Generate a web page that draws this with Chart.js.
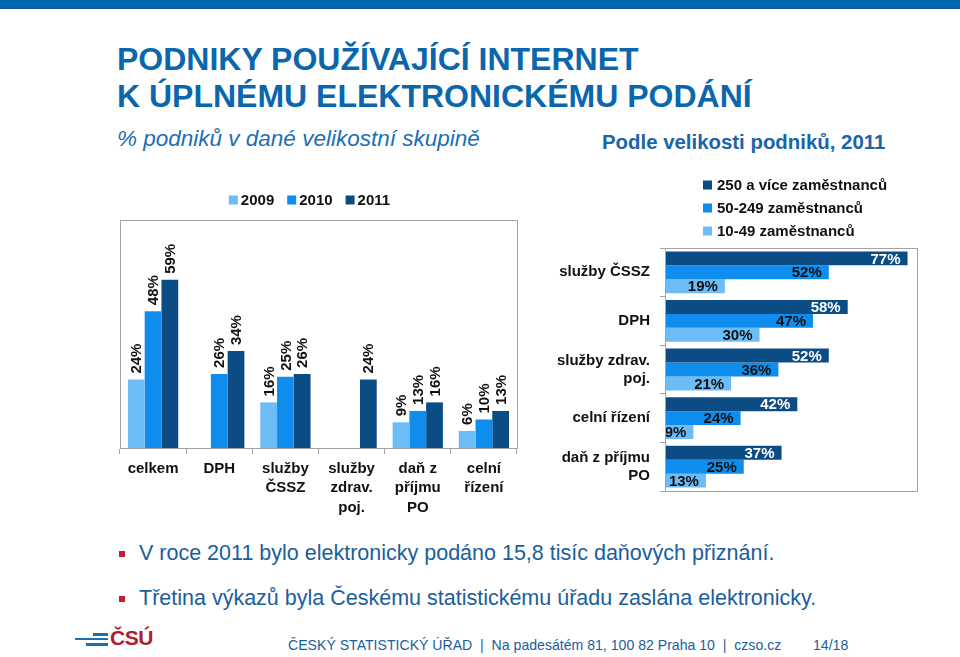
<!DOCTYPE html>
<html lang="cs">
<head>
<meta charset="utf-8">
<script src="https://cdn.jsdelivr.net/npm/chart.js@4/dist/chart.umd.min.js"></script>
<style>
  html, body { margin:0; padding:0; }
  body { width:960px; height:657px; position:relative; overflow:hidden; background:#fff;
         font-family:"Liberation Sans", Arial, sans-serif; }
  .abs { position:absolute; white-space:nowrap; }
  #topbar { left:0; top:0; width:960px; height:8px; background:#0067b1; border-bottom:1px solid #0a5a96; }
  .title { left:117px; font-size:32px; line-height:37px; font-weight:bold; color:#0a67ad; }
  #sub1 { left:117px; top:126px; font-size:22.5px; line-height:26px; font-style:italic; color:#1a6fb5; }
  #sub2 { left:602px; top:129px; font-size:20.4px; line-height:26px; font-weight:bold; color:#1a64a8; }
  .bullet { left:139px; font-size:21.5px; line-height:26px; color:#1a5e9c; }
  .sq { position:absolute; width:6px; height:6px; background:#c0202e; }
  #footer { left:288px; top:636px; font-size:14.1px; line-height:18px; color:#1a5e9c; }
  #page { left:813px; top:636px; font-size:14.1px; line-height:18px; color:#1a5e9c; }
  #logo { left:110px; top:625px; font-size:21px; line-height:26px; font-weight:bold; color:#b11c2e; letter-spacing:-0.5px; }
  .ll { position:absolute; height:3px; background:#1b6fb5; }
  canvas { position:absolute; }
</style>
</head>
<body>
<div id="topbar" class="abs"></div>
<div class="abs title" style="top:41px">PODNIKY POUŽÍVAJÍCÍ INTERNET</div>
<div class="abs title" style="top:78px">K ÚPLNÉMU ELEKTRONICKÉMU PODÁNÍ</div>
<div id="sub1" class="abs">% podniků v dané velikostní skupině</div>
<div id="sub2" class="abs">Podle velikosti podniků, 2011</div>

<canvas id="left" width="420" height="345" style="left:110px; top:180px;"></canvas>
<canvas id="right" width="375" height="340" style="left:550px; top:170px;"></canvas>

<div class="sq" style="left:119px; top:551px"></div>
<div class="abs bullet" style="top:540px">V roce 2011 bylo elektronicky podáno 15,8 tisíc daňových přiznání.</div>
<div class="sq" style="left:119px; top:596px"></div>
<div class="abs bullet" style="top:585px">Třetina výkazů byla Českému statistickému úřadu zaslána elektronicky.</div>

<div class="ll" style="left:93px; top:633px; width:15px"></div>
<div class="ll" style="left:75px; top:638px; width:33px; height:2px"></div>
<div class="ll" style="left:86px; top:643px; width:22px"></div>
<div id="logo" class="abs">ČSÚ</div>
<div id="footer" class="abs">ČESKÝ STATISTICKÝ ÚŘAD &nbsp;|&nbsp; Na padesátém 81, 100 82 Praha 10 &nbsp;|&nbsp; czso.cz</div>
<div id="page" class="abs">14/18</div>

<script>
// ---- Data ----
const leftCategories = ['celkem', 'DPH', ['služby', 'ČSSZ'], ['služby', 'zdrav.', 'poj.'], ['daň z', 'příjmu', 'PO'], ['celní', 'řízení']];
const yearLabels = ['2009', '2010', '2011'];
const values2009 = [24, null, 16, null, 9, 6];
const values2010 = [48, 26, 25, null, 13, 10];
const values2011 = [59, 34, 26, 24, 16, 13];

const rightCategories = ['služby ČSSZ', 'DPH', ['služby zdrav.', 'poj.'], 'celní řízení', ['daň z příjmu', 'PO']];
const sizeLabels = ['250 a více zaměstnanců', '50-249 zaměstnanců', '10-49 zaměstnanců'];
const valuesLarge = [77, 58, 52, 42, 37];
const valuesMedium = [52, 47, 36, 24, 25];
const valuesSmall = [19, 30, 21, 9, 13];

// ---- Styles ----
const LIGHT = '#6cbcf6', MID = '#0f8ded', DARK = '#0c4c84';
const FONT = '"Liberation Sans", Arial, sans-serif';
const BORDER = '#a3a3a3';
Chart.defaults.font.family = FONT;

const boxPlugin = {
  id: 'box',
  afterDraw(chart) {
    const a = chart.chartArea, c = chart.ctx;
    c.save(); c.strokeStyle = BORDER; c.lineWidth = 1;
    c.strokeRect(Math.round(a.left) + 0.5, Math.round(a.top) + 0.5, Math.round(a.right - a.left), Math.round(a.bottom - a.top));
    c.restore();
  }
};

function legendPlugin(mode, pos) {
  return {
    id: 'customLegend',
    afterDraw(chart) {
      const c = chart.ctx;
      c.save();
      c.font = 'bold 15px ' + FONT;
      c.textBaseline = 'middle';
      c.textAlign = 'left';
      const ds = chart.data.datasets;
      if (mode === 'row') {
        const box = 9, gap = 3, space = 13;
        let total = 0;
        ds.forEach((d, i) => { total += box + gap + c.measureText(d.label).width + (i ? space : 0); });
        const a = chart.chartArea;
        let x = (a.left + a.right) / 2 - total / 2 + pos.dx;
        ds.forEach(d => {
          c.fillStyle = d.backgroundColor;
          c.fillRect(x, pos.y - box / 2, box, box);
          x += box + gap;
          c.fillStyle = '#111';
          c.fillText(d.label, x, pos.y + 1);
          x += c.measureText(d.label).width + space;
        });
      } else {
        const box = 9;
        ds.forEach((d, i) => {
          const y = pos.y + i * pos.step;
          c.fillStyle = d.backgroundColor;
          c.fillRect(pos.x, y - box / 2, box, box);
          c.fillStyle = '#111';
          c.fillText(d.label, pos.x + 14, y + 1);
        });
      }
      c.restore();
    }
  };
}

const vLabelPlugin = {
  id: 'vlabels',
  afterDatasetsDraw(chart) {
    const c = chart.ctx;
    c.save();
    c.font = 'bold 15px ' + FONT;
    c.fillStyle = '#111';
    c.textAlign = 'left';
    c.textBaseline = 'middle';
    chart.data.datasets.forEach((d, i) => {
      chart.getDatasetMeta(i).data.forEach((el, j) => {
        const v = d.data[j];
        if (v === null || v === undefined) return;
        c.save();
        c.translate(el.x + 1, el.y - 6);
        c.rotate(-Math.PI / 2);
        c.fillText(v + '%', 0, 0);
        c.restore();
      });
    });
    c.restore();
  }
};

const hLabelPlugin = {
  id: 'hlabels',
  afterDatasetsDraw(chart) {
    const c = chart.ctx;
    c.save();
    c.font = 'bold 15px ' + FONT;
    c.textAlign = 'right';
    c.textBaseline = 'middle';
    chart.data.datasets.forEach((d, i) => {
      chart.getDatasetMeta(i).data.forEach((el, j) => {
        const v = d.data[j];
        if (v === null || v === undefined) return;
        c.fillStyle = i === 0 ? '#ffffff' : '#111';
        c.fillText(v + '%', el.x - 7, el.y + 1);
      });
    });
    c.restore();
  }
};

new Chart(document.getElementById('left'), {
  type: 'bar',
  data: {
    labels: leftCategories,
    datasets: [
      { label: yearLabels[0], data: values2009, backgroundColor: LIGHT },
      { label: yearLabels[1], data: values2010, backgroundColor: MID },
      { label: yearLabels[2], data: values2011, backgroundColor: DARK }
    ]
  },
  options: {
    responsive: false, animation: false,
    categoryPercentage: 0.76, barPercentage: 1.0,
    layout: { padding: { left: 10, right: 13, top: 40, bottom: 0 } },
    plugins: { legend: { display: false }, tooltip: { enabled: false } },
    scales: {
      x: {
        grid: { display: true, drawOnChartArea: false, drawTicks: true, tickLength: 6, color: BORDER, offset: true },
        border: { display: true, color: BORDER },
        ticks: { font: { size: 15, weight: 'bold', lineHeight: 1.3 }, color: '#111', padding: 5, maxRotation: 0, autoSkip: false },
        afterFit(s) { s.height = 77; }
      },
      y: { display: false, min: 0, max: 80 }
    }
  },
  plugins: [boxPlugin, vLabelPlugin, legendPlugin('row', { y: 20, dx: -9 })]
});

new Chart(document.getElementById('right'), {
  type: 'bar',
  data: {
    labels: rightCategories,
    datasets: [
      { label: sizeLabels[0], data: valuesLarge, backgroundColor: DARK },
      { label: sizeLabels[1], data: valuesMedium, backgroundColor: MID },
      { label: sizeLabels[2], data: valuesSmall, backgroundColor: LIGHT }
    ]
  },
  options: {
    indexAxis: 'y',
    responsive: false, animation: false,
    categoryPercentage: 0.86, barPercentage: 1.0,
    layout: { padding: { left: 0, right: 8, top: 78, bottom: 7 } },
    plugins: { legend: { display: false }, tooltip: { enabled: false } },
    scales: {
      x: { display: false, min: 0, max: 80 },
      y: {
        grid: { display: true, drawOnChartArea: false, drawTicks: true, tickLength: 5, color: BORDER, offset: true },
        border: { display: true, color: BORDER },
        ticks: { font: { size: 15, weight: 'bold', lineHeight: 1.2 }, color: '#111', padding: 10, autoSkip: false },
        afterFit(s) { s.width = 115; }
      }
    }
  },
  plugins: [boxPlugin, hLabelPlugin, legendPlugin('col', { x: 153, y: 15, step: 23 })]
});
</script>
</body>
</html>
